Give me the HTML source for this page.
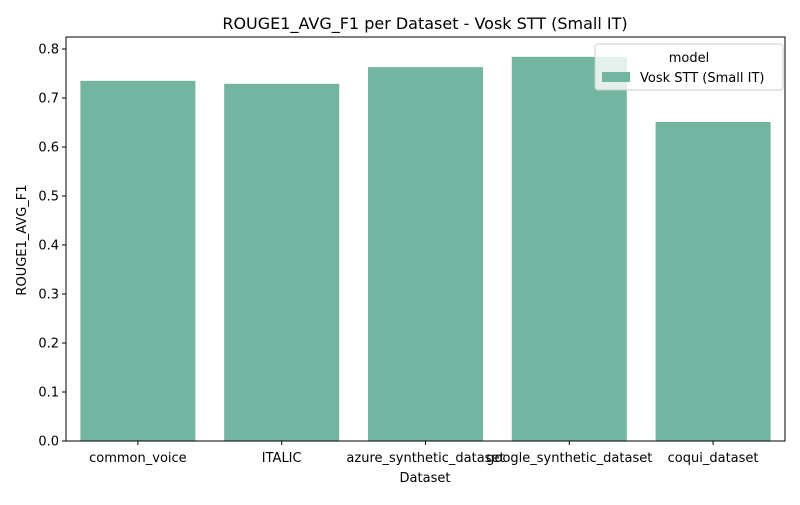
<!DOCTYPE html>
<html><head><meta charset="utf-8"><style>
body{margin:0;background:#fff;font-family:"Liberation Sans","DejaVu Sans",sans-serif}
</style></head><body>
<svg width="800" height="500" xmlns="http://www.w3.org/2000/svg" font-family="DejaVu Sans, Liberation Sans, sans-serif">
<text x="425" y="29" text-anchor="middle" font-size="16">ROUGE1_AVG_F1 per Dataset - Vosk STT (Small IT)</text>
<g id="bars"></g><g id="yaxis"></g><g id="xaxis"></g>
<rect x="66" y="37" width="719" height="404" fill="none" stroke="#000" stroke-width="1"/>
<g>
<rect x="595" y="44" width="188" height="46" rx="3" fill="#fff" fill-opacity="0.8" stroke="#ccc"/>
<text x="689" y="62" text-anchor="middle" font-size="13">model</text>
<rect x="602" y="72" width="28" height="10" fill="#73b5a0"/>
<text x="640" y="82" font-size="13">Vosk STT (Small IT)</text>
</g>
<text x="425" y="482" text-anchor="middle" font-size="13">Dataset</text>
<text transform="translate(26,240) rotate(-90)" text-anchor="middle" font-size="13">ROUGE1_AVG_F1</text>
</svg>
<script>
const categories=["common_voice","ITALIC","azure_synthetic_dataset","google_synthetic_dataset","coqui_dataset"];
const values=[0.735,0.729,0.763,0.784,0.651];
const yTicks=[0,0.1,0.2,0.3,0.4,0.5,0.6,0.7,0.8];
const NS="http://www.w3.org/2000/svg";
const x0=66,x1=785,yBase=441,pxPer=490;
const step=(x1-x0)/categories.length;
const y=v=>yBase-v*pxPer;
const mk=(t,a)=>{const e=document.createElementNS(NS,t);for(const k in a)e.setAttribute(k,a[k]);return e;};
const bars=document.getElementById('bars'),ya=document.getElementById('yaxis'),xa=document.getElementById('xaxis');
categories.forEach((c,i)=>{
  const cx=x0+step*(i+0.5),w=step*0.8;
  const r=mk('rect',{x:cx-w/2,y:y(values[i]),width:w,height:yBase-y(values[i]),fill:'#73b5a0'});
  
  
  bars.appendChild(r);
  const tk=mk('line',{x1:cx,x2:cx,y1:yBase,y2:yBase+4,stroke:'#000'});
  
  
  xa.appendChild(tk);
  const t=mk('text',{x:cx,y:yBase+21,'text-anchor':'middle','font-size':13});
  t.textContent=c;
  
  
  xa.appendChild(t);
});
yTicks.forEach(v=>{
  const yy=y(v);
  const tk=mk('line',{x1:x0-4,x2:x0,y1:yy,y2:yy,stroke:'#000'});
  
  
  ya.appendChild(tk);
  const t=mk('text',{x:x0-7,y:yy+4.5,'text-anchor':'end','font-size':13});
  t.textContent=v.toFixed(1);
  
  
  ya.appendChild(t);
});
</script>
</body></html>
